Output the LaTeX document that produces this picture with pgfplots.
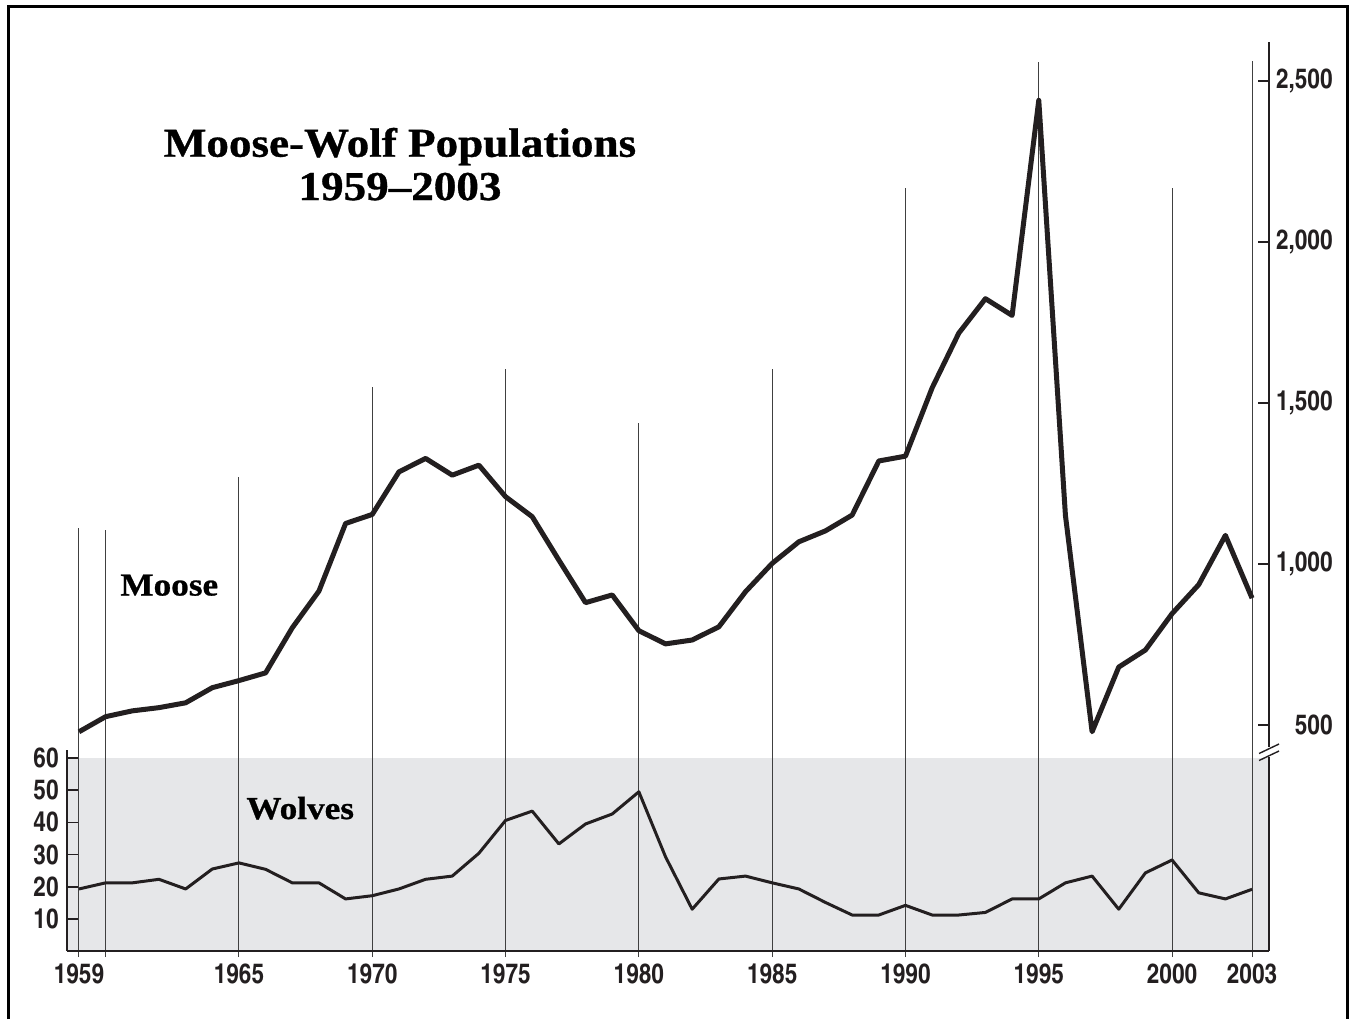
\documentclass[border=0pt]{standalone}
\usepackage{fontspec}
\usepackage{pgfplots}
\pgfplotsset{compat=1.18}
\setmainfont{Liberation Serif}
\newfontfamily\titlefont{Liberation Serif}[FakeStretch=1.1, BoldFeatures={FakeBold=0.8}]
\newfontfamily\tickfont{TeX Gyre Heros Cn}
\definecolor{ink}{HTML}{231F20}
\definecolor{wolfbg}{HTML}{E6E7E9}
\newcommand\tickfnt{\tickfont\bfseries\fontsize{13.8bp}{15bp}\selectfont}

% values
\pgfplotstableread{
year moose
1959 479
1960 526
1961 544
1962 554
1963 569
1964 616
1965 638
1966 662
1967 802
1968 916
1969 1126
1970 1154
1971 1286
1972 1328
1973 1276
1974 1307
1975 1209
1976 1147
1977 1012
1978 880
1979 904
1980 793
1981 752
1982 764
1983 805
1984 914
1985 1002
1986 1069
1987 1103
1988 1152
1989 1320
1990 1335
1991 1547
1992 1717
1993 1824
1994 1772
1995 2440
1996 1151
1997 479
1998 680
1999 733
2000 846
2001 936
2002 1089
2003 894
}\moosedata

\pgfplotstableread{
year wolves
1959 19.3
1960 21.2
1961 21.2
1962 22.3
1963 19.3
1964 25.5
1965 27.4
1966 25.4
1967 21.2
1968 21.2
1969 16.2
1970 17.2
1971 19.3
1972 22.3
1973 23.3
1974 30.4
1975 40.6
1976 43.5
1977 33.3
1978 39.5
1979 42.6
1980 49.5
1981 29.3
1982 13.0
1983 22.4
1984 23.3
1985 21.2
1986 19.3
1987 15.1
1988 11.2
1989 11.2
1990 14.2
1991 11.2
1992 11.2
1993 12.0
1994 16.2
1995 16.2
1996 21.2
1997 23.3
1998 13.0
1999 24.3
2000 28.3
2001 18.1
2002 16.2
2003 19.2
}\wolfdata

\pgfplotsset{
  mw/.style={
    scale only axis, width=601bp, height=454.5bp,
    at={(33.5bp,-475.5bp)}, anchor=south west,
    xmin=1958.55, xmax=2003.637, clip=false,
    tick align=inside, major tick length=5.5bp,
    axis line style={-},
  },
}

\begin{document}
\begin{tikzpicture}
\begin{scope}[x=0.5bp,y=-0.5bp]
  \useasboundingbox (0,0) rectangle (1351,1019);
\end{scope}

% wolves
\begin{axis}[mw,
  ymin=0, ymax=282.56,
  axis on top,
  axis x line*=bottom, axis y line*=left,
  x axis line style={line width=1bp, color=ink},
  y axis line style={draw=none},
  xtick={1959,1965,1970,1975,1980,1985,1990,1995,2000,2003},
  xticklabels={1959,1965,1970,1975,1980,1985,1990,1995,2000,2003},
  xtick style={draw=none},
  xticklabel style={font=\tickfnt, text=ink, anchor=north, inner sep=0pt, yshift=-6bp},
  ytick={10,20,30,40,50,60},
  yticklabels={10,20,30,40,50,60},
  ytick style={line width=0.8bp, color=ink},
  yticklabel style={font=\tickfnt, text=ink, anchor=east, inner sep=0pt, xshift=-4bp},
]
\fill[wolfbg] (axis cs:1958.55,0) rectangle (axis cs:2003.637,60);
\draw[black!75, line width=0.5bp] (axis cs:1959,-1.87) -- (axis cs:1959,131.5);
\draw[black!75, line width=0.5bp] (axis cs:1960,-1.87) -- (axis cs:1960,130.9);
\draw[black!75, line width=0.5bp] (axis cs:1965,-1.87) -- (axis cs:1965,147.4);
\draw[black!75, line width=0.5bp] (axis cs:1970,-1.87) -- (axis cs:1970,175.3);
\draw[black!75, line width=0.5bp] (axis cs:1975,-1.87) -- (axis cs:1975,180.9);
\draw[black!75, line width=0.5bp] (axis cs:1980,-1.87) -- (axis cs:1980,164.1);
\draw[black!75, line width=0.5bp] (axis cs:1985,-1.87) -- (axis cs:1985,180.9);
\draw[black!75, line width=0.5bp] (axis cs:1990,-1.87) -- (axis cs:1990,237.2);
\draw[black!75, line width=0.5bp] (axis cs:1995,-1.87) -- (axis cs:1995,276.3);
\draw[black!75, line width=0.5bp] (axis cs:2000,-1.87) -- (axis cs:2000,237.2);
\draw[black!75, line width=0.5bp] (axis cs:2003,-1.87) -- (axis cs:2003,276.7);
\addplot[ink, line width=1.5bp, line join=round, mark=none] table[x=year, y=wolves] {\wolfdata};
\end{axis}

% moose
\begin{axis}[mw,
  ymin=-201.9, ymax=2621.1,
  axis x line=none, axis y line*=right,
  y axis line style={draw=none},
  ytick={500,1000,1500,2000,2500},
  yticklabels={500,{1,000},{1,500},{2,000},{2,500}},
  ytick style={line width=0.8bp, color=ink},
  yticklabel style={font=\tickfnt, text=ink, anchor=east, inner sep=0pt, xshift=32bp},
]
\addplot[ink, line width=2.5bp, line join=round, mark=none] table[x=year, y=moose] {\moosedata};
\end{axis}

\begin{scope}[x=0.5bp,y=-0.5bp]
  \draw[line width=1.6bp] (8.5,1019) -- (8.5,6.5) -- (1347.5,6.5) -- (1347.5,1019);
  \draw[ink, line width=1bp] (67,750) -- (67,951);
  \draw[ink, line width=1bp] (1269,42) -- (1269,747);
  \draw[ink, line width=1bp] (1269,757) -- (1269,951);
  \draw[ink, line width=0.7bp] (1259,753.5) -- (1279,744);
  \draw[ink, line width=0.7bp] (1259,760.5) -- (1279,751);
  \node[font=\titlefont\bfseries\fontsize{20.5bp}{22bp}\selectfont, anchor=base] at (400,156.7) {Moose-Wolf Populations};
  \node[font=\titlefont\bfseries\fontsize{20.5bp}{22bp}\selectfont, anchor=base] at (400,200) {1959–2003};
  \node[font=\titlefont\bfseries\fontsize{16bp}{18bp}\selectfont, anchor=base west, inner sep=0pt] at (120,595.5) {Moose};
  \node[font=\titlefont\bfseries\fontsize{16bp}{18bp}\selectfont, anchor=base west, inner sep=0pt] at (246,819) {Wolves};
\end{scope}
\end{tikzpicture}
\end{document}
